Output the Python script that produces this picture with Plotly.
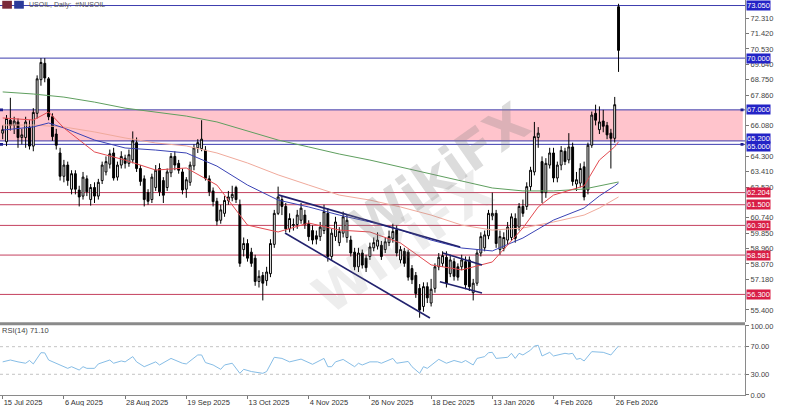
import plotly.graph_objects as go

# ---------------- data ----------------
bar_idx = list(range(162))
opens = [65.65,65.15,66.40,66.10,66.30,65.40,65.40,66.00,64.90,66.80,68.75,69.70,68.80,66.60,65.60,64.50,63.15,63.80,62.40,63.30,
         62.35,62.00,63.00,61.80,62.50,62.00,62.90,63.40,63.85,64.50,63.10,63.80,64.20,63.90,64.10,65.10,63.60,63.00,62.20,61.80,
         62.50,63.60,62.90,62.50,63.35,64.30,63.90,63.40,62.40,62.80,63.75,64.80,64.75,64.67,63.00,62.30,61.70,60.60,61.00,61.75,
         61.90,62.50,61.50,58.90,59.25,58.75,58.40,57.05,57.40,57.10,57.50,59.20,61.00,61.80,61.40,60.10,60.30,60.35,60.60,60.90,
         60.40,60.00,59.70,59.65,60.00,61.00,58.50,59.65,59.30,59.85,59.60,59.45,58.75,57.90,58.70,58.40,58.50,59.00,59.10,59.15,
         58.90,59.30,59.55,60.05,58.30,58.80,58.75,57.80,57.40,56.65,55.60,56.75,55.80,56.65,57.90,58.10,58.45,57.50,58.20,57.90,
         57.90,58.20,58.30,56.40,56.95,58.70,59.00,59.70,60.85,61.00,58.90,58.95,59.45,59.60,60.70,60.20,61.40,61.40,62.55,63.40,
         65.40,64.00,62.20,63.80,64.50,63.05,63.80,64.60,64.10,64.85,62.70,62.75,63.70,62.35,64.95,66.80,65.85,66.35,66.10,65.65,
         65.35,72.98]
highs = [66.10,66.70,67.70,66.60,66.50,65.90,66.60,66.40,67.10,69.00,70.00,70.00,68.90,66.80,65.90,64.80,64.10,64.00,63.50,63.50,
         62.60,63.40,63.20,62.70,62.80,63.00,64.00,64.30,64.70,64.80,64.00,64.60,64.40,64.70,65.75,65.40,63.80,63.20,62.40,63.30,
         63.80,63.90,63.10,63.60,64.50,64.60,64.10,63.60,63.10,64.00,65.00,65.30,66.40,64.90,63.20,62.50,61.90,61.50,62.00,62.30,
         62.60,62.60,61.80,59.60,59.50,59.00,58.60,57.70,57.60,57.90,59.50,61.20,62.55,62.00,61.60,61.00,60.70,61.20,61.60,61.20,
         60.60,60.30,60.00,60.50,61.50,61.30,60.10,60.80,60.20,61.10,60.90,59.70,59.00,59.00,58.90,58.60,59.30,59.60,59.90,59.40,
         59.60,60.00,60.40,60.30,59.10,59.00,58.90,58.00,57.60,56.90,57.00,57.00,57.20,58.10,58.70,58.80,58.80,58.60,58.40,58.10,
         58.60,58.50,58.50,57.20,58.90,59.90,60.00,61.20,62.20,61.20,60.00,59.90,60.50,61.00,61.00,61.60,61.80,62.80,63.70,66.30,
         66.00,64.30,64.20,64.80,64.80,64.00,64.90,64.80,65.65,65.10,63.40,63.90,64.00,65.10,66.90,67.30,67.20,67.00,66.30,65.90,
         67.75,73.15]
lows = [65.30,64.90,65.80,65.60,64.80,65.00,64.80,64.70,64.60,66.50,68.40,68.60,66.40,65.20,64.70,62.90,62.80,62.60,62.10,62.10,
        61.40,61.80,62.00,61.45,61.60,61.80,62.70,63.20,63.60,62.90,62.90,63.60,63.60,63.70,63.90,63.40,62.60,61.40,61.50,61.60,
        62.30,62.00,61.60,62.30,63.10,63.50,63.30,62.10,61.90,62.60,63.50,64.50,64.60,62.90,62.00,61.40,60.30,60.40,60.80,61.50,
        61.70,61.60,57.90,58.50,58.20,57.90,56.80,56.70,55.95,56.80,57.30,59.00,60.90,60.90,59.90,59.90,60.00,60.10,60.40,60.10,
        59.40,59.20,59.20,59.40,59.80,58.20,58.30,59.40,59.10,59.60,59.30,58.50,57.70,57.60,57.80,57.60,58.30,58.80,58.90,58.30,
        58.70,59.10,59.30,58.50,58.10,57.90,57.10,56.90,56.10,54.95,55.30,55.80,55.60,56.40,57.70,57.90,56.70,57.30,57.10,57.10,
        57.70,56.60,56.50,55.95,56.80,58.50,58.80,59.50,60.60,59.00,58.60,58.80,59.20,59.40,59.30,60.00,60.80,61.20,62.30,63.20,
        64.80,61.60,61.90,63.60,62.80,62.80,63.50,63.80,63.90,62.60,62.30,62.50,61.75,62.10,64.80,66.10,65.60,65.70,65.30,63.60,
        65.10,69.20]
closes = [65.85,66.50,66.10,66.35,65.40,65.55,66.30,64.90,66.85,68.80,69.75,68.85,66.60,65.45,64.95,63.15,63.80,62.90,63.30,62.40,
          61.95,63.10,62.25,62.50,62.00,62.80,63.80,64.00,64.45,63.05,63.80,64.30,63.90,64.40,65.20,63.60,62.85,61.80,61.70,63.10,
          63.50,62.25,62.05,63.40,64.30,63.80,63.50,62.35,62.95,63.80,64.80,65.10,65.30,63.03,62.25,61.68,60.55,61.20,61.75,61.95,
          62.10,61.80,58.10,59.25,58.40,58.10,57.05,57.35,56.95,57.60,59.25,61.00,61.95,61.40,60.10,60.70,60.35,60.90,61.30,60.35,
          59.65,59.45,59.50,60.20,61.10,58.50,59.85,60.50,59.95,60.80,60.60,58.70,57.90,58.70,58.00,57.85,59.05,59.30,59.45,58.50,
          59.35,59.65,59.95,58.70,58.90,58.10,57.30,57.15,56.35,55.40,56.75,56.10,56.60,57.90,58.45,58.55,56.95,58.30,57.35,57.30,
          58.30,56.85,56.75,56.95,58.70,59.65,59.75,61.00,61.00,59.25,59.65,59.60,60.20,60.80,59.55,61.40,61.00,62.55,63.50,65.45,
          65.65,62.20,63.90,64.50,63.05,63.80,64.65,64.00,64.85,62.85,62.95,63.60,61.95,64.95,66.70,66.40,66.30,66.05,65.55,65.35,
          67.30,70.45]

# moving averages read at sample bars
ma_green_idx = [0,8,16,24,32,40,48,56,64,72,80,88,96,104,112,120,128,136,144,152,156,160,161]
ma_green = [68.04,67.92,67.74,67.45,67.10,66.87,66.64,66.30,65.77,65.25,64.85,64.44,64.09,63.69,63.28,62.88,62.47,62.30,62.30,62.41,62.60,62.76,62.82]
ma_blue_idx = [0,8,12,16,24,32,40,48,56,64,72,80,88,96,104,112,120,128,136,144,152,156,160,161]
ma_blue = [65.83,66.01,66.24,65.95,65.25,64.79,64.67,64.50,63.74,62.64,61.77,61.37,60.90,60.50,60.03,59.45,58.99,58.82,59.57,60.61,61.31,62.01,62.59,62.76]
ma_red_idx = [0,8,12,16,24,32,40,48,56,64,72,80,88,96,104,112,120,128,136,140,144,152,156,160,161]
ma_red = [66.53,66.41,66.88,65.95,64.56,64.09,63.51,63.63,62.64,60.32,59.92,60.44,60.03,59.92,59.28,58.01,57.72,58.18,60.15,61.37,62.06,62.59,64.09,64.86,65.15]
ma_salmon_idx = [0,8,16,24,32,40,48,56,64,72,80,88,96,104,112,120,128,136,144,152,156,161]
ma_salmon = [66.12,66.12,66.01,65.72,65.37,65.08,64.91,64.50,63.92,63.23,62.64,62.06,61.77,61.37,60.90,60.32,60.03,60.15,60.50,60.90,61.31,61.95]

# RSI(14) read at sample bars
rsi_idx = [0,2,4,6,7,8,10,11,12,15,17,18,20,21,22,24,25,28,29,31,32,34,35,37,38,40,41,44,47,48,51,52,53,55,57,58,60,62,63,65,
           68,69,71,73,75,76,78,81,84,85,86,87,89,92,93,94,96,98,99,102,103,106,107,109,110,111,114,116,118,120,121,123,124,126,127,
           128,129,132,133,134,135,136,138,139,140,141,143,144,147,148,149,150,151,152,154,157,159,161]
rsi_val = [48,50.7,48,46,50,45,61.3,61,50.7,43.5,38.6,41,36.2,41,38.6,38.6,45,50.7,46,49.3,48,55.6,48,41,43.5,48,43.5,53,46,45,
           58,58,47,43.5,37.2,43.5,46,31.4,37.2,34,31.4,34,54.6,53,48,49.3,52,44.5,53,41,41,48,51.5,41,46,43.5,48,48,46,53,46,
           48.6,41,31.4,41,38.6,51.7,46,50,47,50,43.5,53,55.6,61.3,61.8,53,54.6,60.4,53,60.4,58,65,71,72,56.5,61.8,56.5,60.4,59.4,
           60.4,51.7,53,49.3,62.8,61.8,58,71.1]

# horizontal levels and zone
blue_levels = [73.050, 70.000, 67.000, 65.200, 65.000]
red_levels = [62.204, 61.500, 60.301, 58.581, 56.300]
zone = [65.200, 67.000]
zone_edge_levels = [67.000, 65.000]

# trend channel end points (bar, price)
channel_lines = [
    [(72.0, 62.07), (119.6, 59.05)],
    [(73.8, 59.86), (111.7, 54.93)],
    [(115.1, 58.70), (125.3, 58.01)],
    [(114.3, 57.03), (125.3, 56.38)],
]

date_tick_idx = [0,16,32,48,64,80,96,112,128,144,160]
date_tick_text = ["15 Jul 2025","6 Aug 2025","28 Aug 2025","19 Sep 2025","13 Oct 2025","4 Nov 2025",
                  "26 Nov 2025","18 Dec 2025","13 Jan 2026","4 Feb 2026","26 Feb 2026"]
price_ticks = [72.310,71.420,70.530,69.640,68.750,67.860,66.080,64.300,63.410,62.520,60.740,59.850,58.960,58.070,57.180,55.400]
rsi_ticks = [0,30,70,100]

# ---------------- figure ----------------
FONT = "Liberation Sans"
fig = go.Figure()

fig.add_trace(go.Scatter(x=ma_green_idx, y=ma_green, mode="lines", line=dict(color="#5f9f5f", width=1), xaxis="x", yaxis="y", hoverinfo="skip"))
fig.add_trace(go.Scatter(x=ma_salmon_idx, y=ma_salmon, mode="lines", line=dict(color="#f0aa9c", width=1), xaxis="x", yaxis="y", hoverinfo="skip"))
fig.add_trace(go.Scatter(x=ma_blue_idx, y=ma_blue, mode="lines", line=dict(color="#3a43b5", width=1), xaxis="x", yaxis="y", hoverinfo="skip"))
fig.add_trace(go.Scatter(x=ma_red_idx, y=ma_red, mode="lines", line=dict(color="#e34a50", width=1), xaxis="x", yaxis="y", hoverinfo="skip"))

fig.add_trace(go.Candlestick(
    x=bar_idx, open=opens, high=highs, low=lows, close=closes,
    increasing=dict(line=dict(color="black", width=1), fillcolor="white"),
    decreasing=dict(line=dict(color="black", width=1), fillcolor="black"),
    whiskerwidth=0, xaxis="x", yaxis="y", hoverinfo="skip"))

fig.add_trace(go.Scatter(x=rsi_idx, y=rsi_val, mode="lines", line=dict(color="#86bde6", width=1), xaxis="x2", yaxis="y2", hoverinfo="skip"))

shapes = []
shapes.append(dict(type="rect", xref="paper", yref="y", x0=0, x1=0.997, y0=zone[0], y1=zone[1],
                   fillcolor="#ffc4cc", line=dict(width=0), layer="below"))
for lv in blue_levels:
    shapes.append(dict(type="line", xref="paper", yref="y", x0=0, x1=1, y0=lv, y1=lv,
                       line=dict(color="#3c3cae", width=1), layer="below"))
for lv in red_levels:
    shapes.append(dict(type="line", xref="paper", yref="y", x0=0, x1=1, y0=lv, y1=lv,
                       line=dict(color="#c4405e", width=1), layer="below"))
# small square handles at the ends of the zone edge lines
for lv in zone_edge_levels:
    for (a, b) in [(0.0, 0.004), (0.994, 0.998)]:
        shapes.append(dict(type="rect", xref="paper", yref="y", x0=a, x1=b, y0=lv - 0.08, y1=lv + 0.08,
                           fillcolor="#1c1c8c", line=dict(width=0)))
for (a, b) in channel_lines:
    shapes.append(dict(type="line", xref="x", yref="y", x0=a[0], y0=a[1], x1=b[0], y1=b[1],
                       line=dict(color="#22226e", width=1.6)))
for lv in [30, 70]:
    shapes.append(dict(type="line", xref="paper", yref="y2", x0=0, x1=1, y0=lv, y1=lv,
                       line=dict(color="#c4c4c4", width=1, dash="dot"), layer="below"))
# panel separator
shapes.append(dict(type="line", xref="paper", yref="paper", x0=0, x1=1, y0=0.1805, y1=0.1805,
                   line=dict(color="#8a8a8a", width=3)))
# title icons
shapes.append(dict(type="rect", xref="paper", yref="paper", x0=0.003, x1=0.016, y0=0.978, y1=0.998,
                   fillcolor="#7a2a3a", line=dict(width=0)))
shapes.append(dict(type="rect", xref="paper", yref="paper", x0=0.019, x1=0.032, y0=0.978, y1=0.998,
                   fillcolor="#2a3a9a", line=dict(width=0)))

annotations = []
for lv in blue_levels:
    ysh = 2 if lv == 65.2 else (-2 if lv == 65.0 else 0)
    annotations.append(dict(x=1, xref="paper", y=lv, yref="y", xanchor="left", yanchor="middle", xshift=1, yshift=ysh,
                            text=f"{lv:.3f}", showarrow=False, font=dict(family=FONT, size=7.5, color="white"),
                            bgcolor="#2323c6", borderpad=0))
for lv in red_levels:
    annotations.append(dict(x=1, xref="paper", y=lv, yref="y", xanchor="left", yanchor="middle", xshift=1,
                            text=f"{lv:.3f}", showarrow=False, font=dict(family=FONT, size=7.5, color="white"),
                            bgcolor="#d81e46", borderpad=0))
annotations.append(dict(x=0.036, xref="paper", y=0.988, yref="paper", xanchor="left", yanchor="middle",
                        text="USOIL, Daily:  #NUSOIL", showarrow=False, font=dict(family=FONT, size=7, color="#555")))
annotations.append(dict(x=0.0, xref="paper", y=94, yref="y2", xanchor="left", yanchor="middle",
                        text="RSI(14) 71.10", showarrow=False, font=dict(family=FONT, size=7.5, color="#444")))
# watermark
annotations.append(dict(x=0.59, xref="paper", y=63.3, yref="y", text="<b>WikiFX</b>", showarrow=False, textangle=-35,
                        font=dict(family="DejaVu Sans", size=52, color="rgba(130,130,130,0.28)")))
annotations.append(dict(x=0.54, xref="paper", y=59.3, yref="y", text="<b>WikiFX</b>", showarrow=False, textangle=-35,
                        font=dict(family="DejaVu Sans", size=52, color="rgba(130,130,130,0.14)")))

fig.update_layout(
    width=802, height=406, margin=dict(l=0, r=57, t=0, b=11, autoexpand=False),
    paper_bgcolor="white", plot_bgcolor="white", showlegend=False, hovermode=False,
    font=dict(family=FONT, size=7.5, color="#333"),
    shapes=shapes, annotations=annotations,
    xaxis=dict(domain=[0, 1], anchor="y", matches="x2", range=[-0.706, 194.06], showticklabels=False,
               showgrid=False, zeroline=False, rangeslider=dict(visible=False), fixedrange=True),
    xaxis2=dict(domain=[0, 1], anchor="y2", range=[-0.706, 194.06], tickmode="array", tickvals=date_tick_idx,
                ticktext=date_tick_text, ticks="outside", ticklen=3, tickcolor="#777", ticklabelposition="outside right",
                showline=True, linecolor="#8a8a8a", showgrid=False, zeroline=False, automargin=False,
                tickfont=dict(family=FONT, size=7.5, color="#333")),
    yaxis=dict(domain=[0.1848, 1], anchor="x", side="right", range=[54.70, 73.37], tickmode="array",
               tickvals=price_ticks, ticktext=[f"{v:.3f}" for v in price_ticks], ticks="outside", ticklen=3,
               tickcolor="#777", showline=True, linecolor="#8a8a8a", showgrid=False, zeroline=False, automargin=False,
               tickfont=dict(family=FONT, size=7.5, color="#444")),
    yaxis2=dict(domain=[0, 0.1772], anchor="x2", side="right", range=[0, 101.4], tickmode="array",
                tickvals=rsi_ticks, ticktext=[f"{v:.2f}" for v in rsi_ticks], ticks="outside", ticklen=3,
                tickcolor="#777", showline=True, linecolor="#8a8a8a", showgrid=False, zeroline=False, automargin=False,
                tickfont=dict(family=FONT, size=7.5, color="#444")),
)

fig.write_html("out.html", config={"displayModeBar": False, "staticPlot": True},
               post_script="document.body.style.margin='0px';document.body.style.overflow='hidden';")
